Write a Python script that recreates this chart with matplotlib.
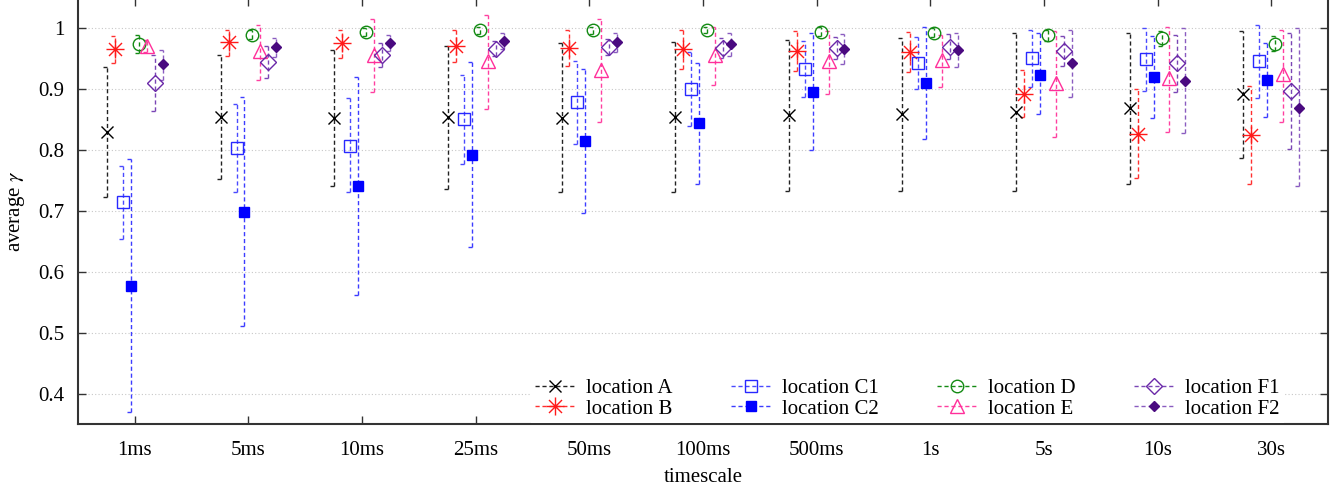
import matplotlib
matplotlib.use('Agg')
import matplotlib.pyplot as plt
from matplotlib.path import Path
from matplotlib.lines import Line2D
from matplotlib.ticker import FixedLocator, FixedFormatter

# ---------------- data ----------------
timescales = ['1ms', '5ms', '10ms', '25ms', '50ms', '100ms', '500ms', '1s', '5s', '10s', '30s']

A_mean = [0.830, 0.854, 0.853, 0.854, 0.853, 0.854, 0.857, 0.859, 0.863, 0.869, 0.892]
A_low  = [0.723, 0.752, 0.741, 0.737, 0.732, 0.731, 0.733, 0.733, 0.733, 0.745, 0.787]
A_high = [0.936, 0.957, 0.964, 0.971, 0.976, 0.977, 0.981, 0.985, 0.993, 0.993, 0.996]

B_mean = [0.966, 0.977, 0.976, 0.971, 0.968, 0.966, 0.963, 0.962, 0.892, 0.826, 0.825]
B_low  = [0.944, 0.955, 0.952, 0.945, 0.939, 0.934, 0.930, 0.928, 0.855, 0.754, 0.744]
B_high = [0.988, 0.997, 0.997, 0.998, 0.998, 0.998, 0.996, 0.995, 0.932, 0.900, 0.906]

C1_mean = [0.714, 0.804, 0.807, 0.851, 0.879, 0.901, 0.934, 0.943, 0.951, 0.949, 0.946]
C1_low  = [0.654, 0.732, 0.731, 0.777, 0.810, 0.839, 0.887, 0.900, 0.903, 0.898, 0.886]
C1_high = [0.774, 0.876, 0.885, 0.923, 0.947, 0.962, 0.980, 0.986, 0.998, 1.000, 1.005]

C2_mean = [0.577, 0.699, 0.741, 0.792, 0.815, 0.845, 0.896, 0.911, 0.924, 0.921, 0.916]
C2_low  = [0.369, 0.511, 0.562, 0.641, 0.696, 0.745, 0.800, 0.819, 0.859, 0.853, 0.855]
C2_high = [0.786, 0.888, 0.921, 0.945, 0.934, 0.944, 0.992, 1.002, 0.992, 0.987, 0.976]

D_mean = [0.974, 0.990, 0.994, 0.997, 0.998, 0.997, 0.995, 0.993, 0.990, 0.985, 0.975]
D_low  = [0.959, 0.982, 0.988, 0.991, 0.991, 0.992, 0.988, 0.986, 0.980, 0.971, 0.963]
D_high = [0.989, 0.997, 1.000, 1.002, 1.003, 1.003, 1.002, 1.001, 0.997, 0.996, 0.988]

E_mean = [0.972, 0.963, 0.957, 0.946, 0.932, 0.957, 0.947, 0.948, 0.911, 0.918, 0.925]
E_low  = [0.962, 0.916, 0.895, 0.867, 0.846, 0.907, 0.893, 0.904, 0.821, 0.830, 0.846]
E_high = [0.981, 1.005, 1.015, 1.022, 1.016, 1.003, 0.996, 0.990, 0.996, 1.003, 0.998]

F1_mean = [0.910, 0.945, 0.957, 0.967, 0.970, 0.968, 0.968, 0.970, 0.963, 0.943, 0.897]
F1_low  = [0.864, 0.918, 0.937, 0.954, 0.956, 0.952, 0.949, 0.949, 0.938, 0.896, 0.802]
F1_high = [0.956, 0.971, 0.976, 0.979, 0.982, 0.984, 0.986, 0.991, 0.988, 0.990, 0.992]

F2_mean = [0.941, 0.969, 0.976, 0.979, 0.977, 0.974, 0.967, 0.964, 0.944, 0.914, 0.870]
F2_low  = [0.916, 0.953, 0.963, 0.966, 0.962, 0.954, 0.941, 0.937, 0.888, 0.829, 0.741]
F2_high = [0.965, 0.985, 0.990, 0.992, 0.993, 0.993, 0.991, 0.992, 0.998, 1.000, 1.000]

labels = ['location A', 'location B', 'location C1', 'location C2',
          'location D', 'location E', 'location F1', 'location F2']

y_ticks = [0.4, 0.5, 0.6, 0.7, 0.8, 0.9, 1.0]
y_tick_labels = ['0.4', '0.5', '0.6', '0.7', '0.8', '0.9', '1']

# ---------------- style ----------------
asterisk = Path([(0, -1), (0, 1), (-1, 0), (1, 0),
                 (-0.72, -0.72), (0.72, 0.72), (-0.72, 0.72), (0.72, -0.72)],
                [Path.MOVETO, Path.LINETO, Path.MOVETO, Path.LINETO,
                 Path.MOVETO, Path.LINETO, Path.MOVETO, Path.LINETO])
left_tick = Path([(-1, 0), (0, 0)], [Path.MOVETO, Path.LINETO])

styles = [
    dict(color='#000000', ecolor='#222222', marker='x', ms=9, mfc='none', mew=1.0),
    dict(color='#ff1a1a', ecolor='#ff3030', marker=asterisk, ms=13, mfc='none', mew=1.0),
    dict(color='#2828ff', ecolor='#4a4aff', marker='s', ms=9, mfc='none', mew=1.0),
    dict(color='#0000ff', ecolor='#3c3cff', marker='s', ms=7.5, mfc='#0000ff', mew=1.0),
    dict(color='#138a13', ecolor='#138a13', marker='o', ms=9, mfc='none', mew=1.0),
    dict(color='#ff2f9a', ecolor='#ff3fa0', marker='^', ms=9.5, mfc='none', mew=1.0),
    dict(color='#6a28a8', ecolor='#7a45b5', marker='D', ms=8, mfc='none', mew=1.0),
    dict(color='#4a0a80', ecolor='#8a5cc0', marker='D', ms=5, mfc='#4a0a80', mew=1.0),
]

series = [
    (A_mean, A_low, A_high), (B_mean, B_low, B_high),
    (C1_mean, C1_low, C1_high), (C2_mean, C2_low, C2_high),
    (D_mean, D_low, D_high), (E_mean, E_low, E_high),
    (F1_mean, F1_low, F1_high), (F2_mean, F2_low, F2_high),
]

plt.rcParams['font.family'] = ['Liberation Serif', 'DejaVu Serif']
plt.rcParams['mathtext.fontset'] = 'stix'

FS = 15
fig = plt.figure(figsize=(13.42, 4.91), dpi=100)
ax = fig.add_axes([78 / 1342, 1 - 424 / 491, 1250 / 1342, 424 / 491 + 0.004])

base = list(range(len(timescales)))
dash = (3, 2)
for k, ((m, lo, hi), st, lab) in enumerate(zip(series, styles, labels)):
    off = -0.245 + 0.07 * k
    xs = [b + off for b in base]
    # error bars
    ax.vlines(xs, lo, hi, colors=st['ecolor'], linestyles=(0, dash), linewidth=1.0, zorder=2)
    ax.plot(xs, lo, ls='none', marker=left_tick, ms=6, mew=1.0, color=st['ecolor'], zorder=2)
    ax.plot(xs, hi, ls='none', marker=left_tick, ms=6, mew=1.0, color=st['ecolor'], zorder=2)
    # mean markers
    ax.plot(xs, m, ls='none', marker=st['marker'], ms=st['ms'], mfc=st['mfc'],
            mec=st['color'], mew=st['mew'], color=st['color'], zorder=3)

ax.set_xlim(-0.5, 10.5)
ax.set_ylim(0.35, 1.05)
ax.set_xticks(base)
ax.set_xticklabels(timescales)
ax.yaxis.set_major_locator(FixedLocator(y_ticks))
ax.yaxis.set_major_formatter(FixedFormatter(y_tick_labels))
ax.tick_params(direction='in', top=True, right=True, length=6, width=1.0,
               labelsize=FS, pad=10, color='#333333')
ax.tick_params(axis='x', pad=12)
for sp in ax.spines.values():
    sp.set_linewidth(1.5)
    sp.set_color('#333333')
ax.grid(axis='y', color='#c8c8c8', linestyle=(0, (1, 2)), linewidth=0.8, zorder=0)
ax.set_axisbelow(True)

ax.set_xlabel('timescale', fontsize=FS, labelpad=6)
ax.set_ylabel(r'average $\gamma$', fontsize=FS, labelpad=8)

handles = []
for st, lab in zip(styles, labels):
    handles.append(Line2D([], [], color=st['ecolor'], linestyle=(0, dash), linewidth=1.0,
                          marker=st['marker'], ms=st['ms'], mfc=st['mfc'],
                          mec=st['color'], mew=st['mew'], label=lab))
leg = ax.legend(handles=handles, ncol=4, loc='lower right', bbox_to_anchor=(0.973, -0.022),
                fontsize=FS, frameon=True, facecolor='white', edgecolor='none', framealpha=1.0,
                fancybox=False, handlelength=1.9, handletextpad=0.55, columnspacing=2.8,
                labelspacing=0.05, borderpad=0.2)
leg.set_zorder(5)

fig.savefig('out.png', dpi=100)
